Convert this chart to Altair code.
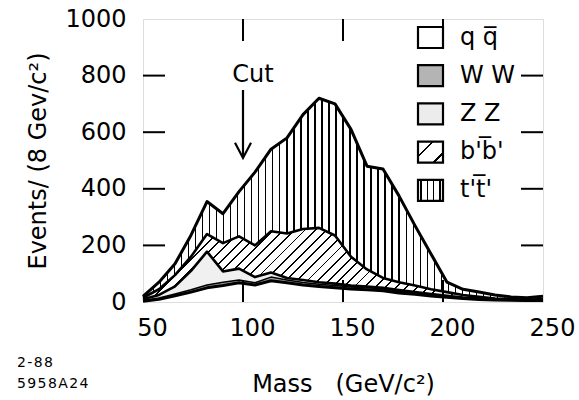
import altair as alt
import pandas as pd
import numpy as np

# ---------------- data ----------------
mass = [50, 58, 66, 74, 82, 90, 98, 106, 114, 122, 130, 138, 146, 154, 162,
        170, 178, 186, 194, 202, 210, 218, 226, 234, 242, 250]
qq = [3, 10, 22, 35, 50, 58, 68, 60, 75, 68, 60, 55, 50, 46, 43, 40, 32, 27, 21, 17, 12, 9, 7, 6, 5, 5]
ww = [2, 4, 6, 8, 10, 12, 10, 8, 13, 10, 9, 8, 8, 7, 7, 6, 5, 4, 4, 3, 3, 2, 2, 1, 1, 1]
zz = [5, 11, 27, 67, 118, 38, 40, 20, 16, 7, 9, 7, 7, 5, 5, 4, 5, 4, 3, 2, 1, 1, 0, 1, 0, 0]
bb = [5, 20, 40, 50, 62, 100, 114, 112, 146, 157, 180, 192, 170, 102, 60, 35, 28, 23, 17, 13, 9, 6, 3, 2, 2, 4]
tt = [5, 25, 40, 76, 115, 104, 158, 259, 290, 338, 404, 458, 465, 450, 365, 385, 305, 212, 125, 35, 20, 17, 13, 8, 7, 10]

series_names = ["qq", "WW", "ZZ", "bb", "tt"]
legend_labels = ["q q\u0305", "W W", "Z Z", "b'b\u0305'", "t't\u0305'"]
x_tick_labels = [50, 100, 150, 200, 250]
y_tick_labels = [0, 200, 400, 600, 800, 1000]
inner_x_ticks = [100, 150, 200]
inner_y_ticks = [200, 400, 600, 800]
cut_mass = [100]
x_title = "Mass\u00a0\u00a0 (GeV/c\u00b2)"
y_title = "Events/ (8 Gev/c\u00b2)"
note_lines = ["2\u200a-\u200a8\u200a8", "5\u200a9\u200a5\u200a8\u200aA\u200a2\u200a4"]

# ---------------- layout ----------------
W, H = 400, 283
FONT = "DejaVu Sans"

comps = np.array([qq, ww, zz, bb, tt], dtype=float)
cum = np.cumsum(comps, axis=0)
df = pd.DataFrame({"mass": mass})
prev = np.zeros(len(mass))
for name, c in zip(series_names, cum):
    df[name + "_lo"] = prev
    df[name + "_hi"] = c
    prev = c


def stripes(n, frac, x2=1.0, y2=0.0, start=0.5):
    stops = [{"offset": 0, "color": "white"}]
    for i in range(n):
        a = (i + start) / n
        lo, hi = max(a - frac / 2, 0.0), min(a + frac / 2, 1.0)
        stops += [{"offset": lo, "color": "white"}, {"offset": lo, "color": "black"},
                  {"offset": hi, "color": "black"}, {"offset": hi, "color": "white"}]
    stops.append({"offset": 1, "color": "white"})
    return {"gradient": "linear", "x1": 0, "y1": 0, "x2": x2, "y2": y2, "stops": stops}


# vertical hatch for t't'
vhatch = stripes(57, 1.3 / W)
# diagonal hatch for b'b'
bb_h = (cum[3].max() - cum[2].min()) * H / 1000.0
ratio = bb_h / W
diag_n = int(round(W * (1 + ratio ** 2) / 10.5))
dhatch = stripes(diag_n, 1.9 / (W * (1 + ratio ** 2)), x2=1.0, y2=ratio)
# legend versions
vhatch_leg = stripes(4, 0.06)
dhatch_leg = stripes(2, 0.06, x2=1.0, y2=22 / 26, start=0.7)

fills = {"qq": "white", "WW": "#a8a8a8", "ZZ": "#f0f0f0", "bb": dhatch, "tt": vhatch}
leg_fills = {"qq": "white", "WW": "#b4b4b4", "ZZ": "#ececec", "bb": dhatch_leg, "tt": vhatch_leg}
line_w = {"qq": 3, "WW": 1.5, "ZZ": 2.6, "bb": 2.6, "tt": 3}

xs = alt.Scale(domain=[50, 250], nice=False, zero=False)
ys = alt.Scale(domain=[0, 1000], nice=False)
xax = alt.Axis(values=x_tick_labels, format="d", tickSize=0, domain=False, grid=False,
               labelFontSize=24, labelPadding=14, labelOffset=9, labelFlush=False,
               labelOverlap=False, labelColor="black", labelFont=FONT,
               title=x_title, titleFontSize=24, titleFontWeight="normal",
               titleColor="black", titleFont=FONT, titlePadding=32)
yax = alt.Axis(values=y_tick_labels, format="d", tickSize=0, domain=False, grid=False,
               labelFontSize=24, labelPadding=17, labelFlush=False,
               labelOverlap=False, labelColor="black", labelFont=FONT,
               title=y_title, titleFontSize=24, titleFontWeight="normal",
               titleColor="black", titleFont=FONT, titlePadding=14)

base = alt.Chart(df)
layers = []
for name in reversed(series_names):
    layers.append(
        base.mark_area(fill=fills[name], strokeWidth=0, opacity=1).encode(
            x=alt.X("mass:Q", scale=xs, axis=xax),
            y=alt.Y(name + "_hi:Q", scale=ys, axis=yax),
            y2=alt.Y2(name + "_lo:Q"),
        )
    )
for name in series_names:
    layers.append(
        base.mark_line(color="black", strokeWidth=line_w[name], strokeJoin="round").encode(
            x=alt.X("mass:Q", scale=xs, axis=xax),
            y=alt.Y(name + "_hi:Q", scale=ys, axis=yax),
        )
    )

# inward ticks
ty = alt.Chart(pd.DataFrame({"v": inner_y_ticks}))
tx = alt.Chart(pd.DataFrame({"v": inner_x_ticks}))
TL = 22
layers.append(ty.mark_rule(color="black", strokeWidth=2).encode(
    y=alt.Y("v:Q", scale=ys, axis=yax), x=alt.value(0), x2=alt.value(TL)))
layers.append(ty.mark_rule(color="black", strokeWidth=2).encode(
    y=alt.Y("v:Q", scale=ys, axis=yax), x=alt.value(W), x2=alt.value(W - TL)))
layers.append(tx.mark_rule(color="black", strokeWidth=2).encode(
    x=alt.X("v:Q", scale=xs, axis=xax), y=alt.value(H), y2=alt.value(H - TL)))
layers.append(tx.mark_rule(color="black", strokeWidth=2).encode(
    x=alt.X("v:Q", scale=xs, axis=xax), y=alt.value(0), y2=alt.value(TL)))

# cut annotation
cut = alt.Chart(pd.DataFrame({"c": cut_mass, "t": ["Cut"]}))
layers.append(cut.mark_text(fontSize=24, font=FONT, color="black", baseline="middle",
                            align="center", dx=10).encode(
    x=alt.X("c:Q", scale=xs, axis=xax), y=alt.value(56), text="t:N"))
layers.append(cut.mark_rule(color="black", strokeWidth=2.2).encode(
    x=alt.X("c:Q", scale=xs, axis=xax), y=alt.value(71), y2=alt.value(138)))
layers.append(cut.mark_point(shape="M-1,-1.9L0,0L1,-1.9", size=256, filled=False,
                             color="black", strokeWidth=2.2, opacity=1).encode(
    x=alt.X("c:Q", scale=xs, axis=xax), y=alt.value(139)))

# legend
leg = alt.Chart(pd.DataFrame({"label": legend_labels, "name": series_names,
                              "row": list(range(len(series_names)))}))
leg = leg.transform_calculate(py="18.5 + datum.row * 38.2")
for name in series_names:
    layers.append(
        leg.transform_filter(alt.datum.name == name).mark_rect(
            fill=leg_fills[name], stroke="black", strokeWidth=2.2).encode(
            x=alt.value(275), x2=alt.value(300),
            y=alt.Y("y0:Q", scale=None), y2=alt.Y2("y1:Q"),
        ).transform_calculate(y0="datum.py - 10.5", y1="datum.py + 10.5")
    )
layers.append(leg.mark_text(fontSize=24, font=FONT, color="black", align="left",
                            baseline="middle").encode(
    x=alt.value(317), y=alt.Y("py:Q", scale=None), text="label:N"))

# plate numbers
notes = alt.Chart(pd.DataFrame({"t": note_lines, "py": [343.5, 364.5]}))
layers.append(notes.mark_text(fontSize=14, font=FONT, color="black", align="left",
                              baseline="middle").encode(
    x=alt.value(-126), y=alt.Y("py:Q", scale=None), text="t:N"))

chart = alt.layer(*layers).properties(
    width=W, height=H,
    autosize=alt.AutoSizeParams(type="none"),
    padding={"left": 143, "top": 19, "right": 36, "bottom": 98},
).configure_view(stroke="black", strokeWidth=2.5).configure(font=FONT, background="white")

chart.save("out.html", embed_options={"renderer": "svg", "actions": False})
